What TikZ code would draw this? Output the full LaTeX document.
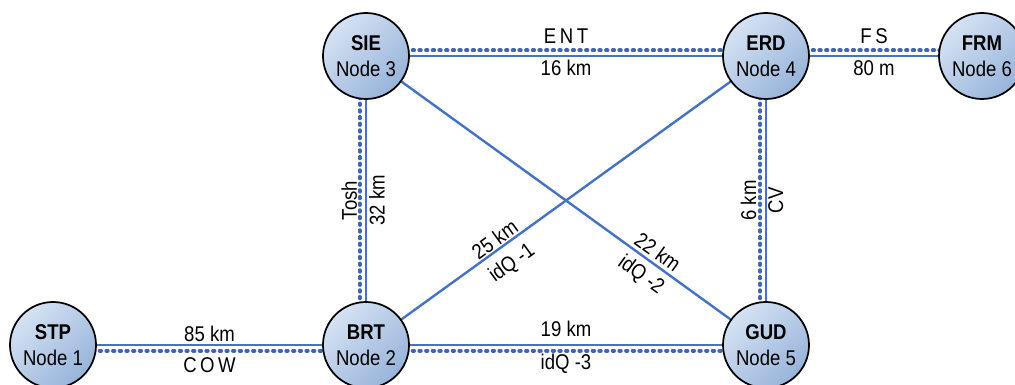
\documentclass[tikz,border=0pt]{standalone}
\usepackage{fontspec}
\setmainfont[FakeStretch=0.87]{Liberation Sans}
\usetikzlibrary{backgrounds}

\definecolor{linkblue}{HTML}{4472C4}
\definecolor{sitelight}{HTML}{D5E2F2}
\definecolor{sitedark}{HTML}{98B4DB}

\tikzset{
	site/.style={circle, draw=black, line width=1.3pt, minimum size=64.5pt, inner sep=0pt,
			align=center, top color=sitelight, bottom color=sitedark, shading angle=45,
			font=\fontsize{16}{19.5}\selectfont},
	link/.style={draw=linkblue, line width=1.8pt},
	fiber/.style={postaction={draw=linkblue!90!black, line width=2.9pt, line cap=round,
					dash pattern=on 1.1pt off 3.9pt, transform canvas={shift={#1}}}},
	lbl/.style={inner sep=0pt, font=\fontsize{16}{18}\selectfont}
}

\begin{document}
\begin{tikzpicture}[x=0.75pt, y=0.75pt]
	\useasboundingbox (0,0) rectangle (1015,385);

	% Draw each site as a shaded circle with its code and number
	\foreach \id/\abbr/\num/\x/\y in {
			stp/STP/1/53/40,
			brt/BRT/2/366/40,
			sie/SIE/3/366/329,
			erd/ERD/4/766/329,
			gud/GUD/5/766/40,
			frm/FRM/6/982/329
		} {
			\node[site] (\id) at (\x,\y) {\textbf{\abbr}\\Node \num};
		}

	\begin{scope}[on background layer]
		% Fibre links: solid line with the dotted channel beside it
		\draw[link, fiber={(0,4.2pt)}] (sie.center) -- (erd.center)
			node[lbl, midway, above=8.6pt] {E\,N\,T}
			node[lbl, midway, below=2.3pt] {16 km};
		\draw[link, fiber={(0,4.2pt)}] (erd.center) -- (frm.center)
			node[lbl, midway, above=8.1pt] {F\,S}
			node[lbl, midway, below=2.2pt] {80 m};
		\draw[link, fiber={(0,-4.2pt)}] (stp.center) -- (brt.center)
			node[lbl, midway, above=1.6pt] {85 km}
			node[lbl, midway, below=8.2pt] {C\,O\,W};
		\draw[link, fiber={(0,-4.2pt)}] (brt.center) -- (gud.center)
			node[lbl, midway, above=5pt] {19 km}
			node[lbl, midway, below=5.8pt] {idQ -3};
		\draw[link, fiber={(-4.8pt,0)}] (brt.center) -- (sie.center)
			node[lbl, midway, sloped, above=5.8pt] {Tosh}
			node[lbl, midway, sloped, below=1.4pt] {32 km};
		\draw[link, fiber={(-4.5pt,0)}] (gud.center) -- (erd.center)
			node[lbl, midway, sloped, above=6.4pt] {6 km}
			node[lbl, midway, sloped, below=0.8pt] {CV};

		% Free-space links across the middle
		\draw[link] (brt.center) -- (erd.center)
			node[lbl, pos=0.337, sloped, above=1pt] {25 km}
			node[lbl, pos=0.337, sloped, below=6.5pt] {idQ -1};
		\draw[link] (sie.center) -- (gud.center)
			node[lbl, pos=0.712, sloped, above=2.4pt] {22 km}
			node[lbl, pos=0.712, sloped, below=4.6pt] {idQ -2};
	\end{scope}

\end{tikzpicture}
\end{document}
